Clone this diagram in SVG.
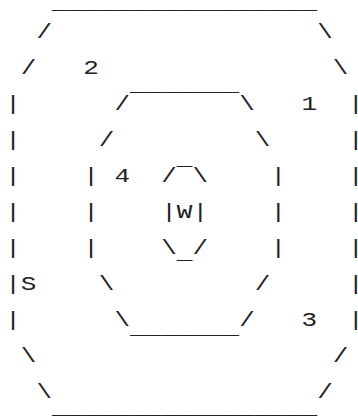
<svg xmlns="http://www.w3.org/2000/svg" width="358" height="416" viewBox="0 0 358 416">
<style>
text{font-family:"Liberation Mono","DejaVu Sans Mono",monospace;font-size:26px;fill:#222}
</style>
<rect width="358" height="416" fill="#fff"/>
<g transform="scale(1,0.8)">
<g id="outer">
<text x="52" y="11.25">_________________</text>
<text x="36.4" y="47.5">/</text><text x="317.2" y="47.5">\</text>
<text x="20.8" y="92.5">/</text><text x="332.8" y="92.5">\</text>
<text x="5.2" y="137.5">|</text><text x="348" y="137.5">|</text>
<text x="5.2" y="182.5">|</text><text x="348" y="182.5">|</text>
<text x="5.2" y="227.5">|</text><text x="348" y="227.5">|</text>
<text x="5.2" y="272.5">|</text><text x="348" y="272.5">|</text>
<text x="5.2" y="317.5">|</text><text x="348" y="317.5">|</text>
<text x="5.2" y="362.5">|</text><text x="348" y="362.5">|</text>
<text x="5.2" y="407.5">|</text><text x="348" y="407.5">|</text>
<text x="20.8" y="452.5">\</text><text x="332.8" y="452.5">/</text>
<text x="36.4" y="497.5">\</text><text x="317.2" y="497.5">/</text>
<text x="52" y="537">‾‾‾‾‾‾‾‾‾‾‾‾‾‾‾‾‾</text>
</g>
<g id="middle">
<text x="114.4" y="137.5">/</text><text x="130" y="133.75">‾‾‾‾‾‾‾</text><text x="239.2" y="137.5">\</text>
<text x="98.8" y="182.5">/</text><text x="254.8" y="182.5">\</text>
<text x="83.2" y="227.5">|</text><text x="270.4" y="227.5">|</text>
<text x="83.2" y="272.5">|</text><text x="270.4" y="272.5">|</text>
<text x="83.2" y="317.5">|</text><text x="270.4" y="317.5">|</text>
<text x="98.8" y="362.5">\</text><text x="254.8" y="362.5">/</text>
<text x="114.4" y="407.5">\</text><text x="130" y="418">_______</text><text x="239.2" y="407.5">/</text>
</g>
<g id="inner">
<text x="161.2" y="227.5">/</text><text x="176.8" y="226.25">‾</text><text x="192.4" y="227.5">\</text>
<text x="161.2" y="272.5">|</text><text x="192.4" y="272.5">|</text>
<text x="161.2" y="317.5">\</text><text x="176.8" y="323.75">_</text><text x="192.4" y="317.5">/</text>
</g>
<g id="labels">
<text x="83.2" y="92.5">2</text>
<text x="301.6" y="137.5">1</text>
<text x="114.4" y="227.5">4</text>
<text x="176.8" y="272.5">W</text>
<text x="20.8" y="362.5">S</text>
<text x="301.6" y="407.5">3</text>
</g>
</g>
</svg>
